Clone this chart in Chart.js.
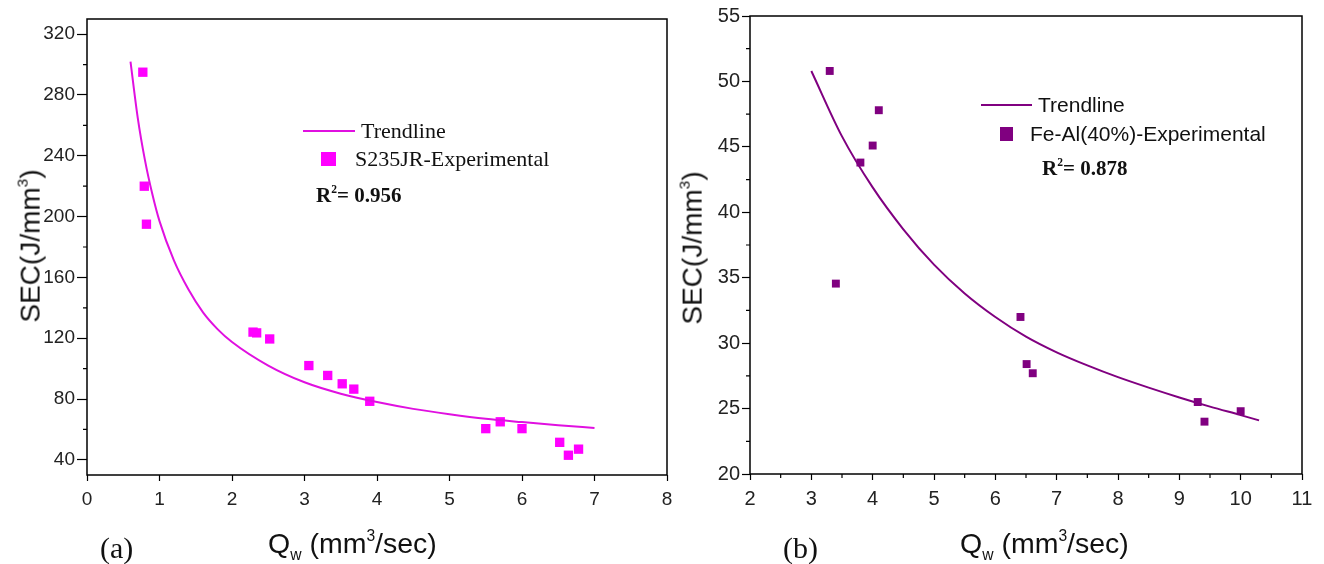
<!DOCTYPE html>
<html>
<head>
<meta charset="utf-8">
<script src="https://cdn.jsdelivr.net/npm/chart.js@4.4.1/dist/chart.umd.min.js"></script>
<style>
  body { margin: 0; background: #fff; }
  #wrap { position: relative; width: 1324px; height: 564px; overflow: hidden; }
  canvas { position: absolute; top: 0; }
  .t { position: absolute; white-space: nowrap; color: #111; }
  .sans { font-family: "Liberation Sans", Arial, sans-serif; }
  .serif { font-family: "Liberation Serif", "Times New Roman", serif; }
  sup { font-size: 0.55em; vertical-align: 0.75em; line-height: 0; }
  sub { font-size: 0.55em; vertical-align: -0.45em; line-height: 0; }
  .sw { position: absolute; }
</style>
</head>
<body>
<div id="wrap">
  <canvas id="chartA" width="690" height="564" style="left:0"></canvas>
  <canvas id="chartB" width="634" height="564" style="left:690px"></canvas>

  <!-- left legend -->
  <div class="sw" style="left:303px;top:130px;width:52px;height:2px;background:#e010e0"></div>
  <div class="t serif" style="left:361px;top:118px;font-size:22px;line-height:26px">Trendline</div>
  <div class="sw" style="left:321px;top:152px;width:15px;height:14px;background:#ff00ff"></div>
  <div class="t serif" style="left:355px;top:146px;font-size:22px;line-height:26px">S235JR-Experimental</div>
  <div class="t serif" style="left:316px;top:182px;font-size:21px;line-height:26px;font-weight:bold">R<sup>2</sup>= 0.956</div>

  <!-- right legend -->
  <div class="sw" style="left:981px;top:104px;width:51px;height:2px;background:#800080"></div>
  <div class="t sans" style="left:1038px;top:92px;font-size:21px;line-height:26px">Trendline</div>
  <div class="sw" style="left:1000px;top:127px;width:13px;height:14px;background:#800080"></div>
  <div class="t sans" style="left:1030px;top:121px;font-size:21px;line-height:26px">Fe-Al(40%)-Experimental</div>
  <div class="t serif" style="left:1042px;top:155px;font-size:21px;line-height:26px;font-weight:bold">R<sup>2</sup>= 0.878</div>

  <!-- axis titles -->
  <div class="t sans" id="ytA" style="font-size:28px;line-height:32px">SEC(J/mm<sup>3</sup>)</div>
  <div class="t sans" id="ytB" style="font-size:28px;line-height:32px">SEC(J/mm<sup>3</sup>)</div>
  <div class="t sans" style="left:268px;top:526px;font-size:28.5px;line-height:34px">Q<sub>w</sub> (mm<sup>3</sup>/sec)</div>
  <div class="t sans" style="left:960px;top:526px;font-size:28.5px;line-height:34px">Q<sub>w</sub> (mm<sup>3</sup>/sec)</div>
  <div class="t serif" style="left:100px;top:531px;font-size:30px;line-height:34px">(a)</div>
  <div class="t serif" style="left:783px;top:531px;font-size:30px;line-height:34px">(b)</div>
</div>

<script>
// (a) S235JR
const leftExpQ   = [0.77, 0.79, 0.82, 2.29, 2.34, 2.52, 3.06, 3.32, 3.52, 3.68, 3.90, 5.50, 5.70, 6.00, 6.52, 6.64, 6.78];
const leftExpSEC = [295, 220, 195, 124, 123.5, 119.5, 102, 95.5, 90, 86.5, 78.5, 60.5, 65, 60.5, 51.5, 43, 47];
const leftTrendQ   = [0.6, 0.7, 0.8, 0.9, 1.0, 1.2, 1.4, 1.6, 1.8, 2.0, 2.5, 3.0, 3.5, 4.0, 4.5, 5.0, 5.5, 6.0, 6.5, 7.0];
const leftTrendSEC = [302, 265, 237, 215, 197, 171, 152, 137, 126, 117.5, 102, 91, 83.5, 78, 73.5, 70, 67, 64.8, 62.8, 61];
const leftXTicks = [0, 1, 2, 3, 4, 5, 6, 7, 8];
const leftYTicks = [40, 80, 120, 160, 200, 240, 280, 320];
const leftYMinor = [60, 100, 140, 180, 220, 260, 300];

// (b) Fe-Al(40%)
const rightExpQ   = [3.30, 3.40, 3.80, 4.00, 4.10, 6.41, 6.51, 6.61, 9.30, 9.41, 10.0];
const rightExpSEC = [50.8, 34.55, 43.8, 45.1, 47.8, 32.0, 28.4, 27.7, 25.5, 24.0, 24.8];
const rightTrendQ   = [3.0, 3.5, 4.0, 4.5, 5.0, 5.5, 6.0, 6.5, 7.0, 7.5, 8.0, 8.5, 9.0, 9.5, 10.0, 10.3];
const rightTrendSEC = [50.8, 45.8, 41.9, 38.7, 36.0, 33.8, 32.0, 30.5, 29.3, 28.3, 27.4, 26.6, 25.85, 25.15, 24.5, 24.1];
const rightXTicks = [2, 3, 4, 5, 6, 7, 8, 9, 10, 11];
const rightXMinor = [2.5, 3.5, 4.5, 5.5, 6.5, 7.5, 8.5, 9.5, 10.5];
const rightYTicks = [20, 25, 30, 35, 40, 45, 50, 55];
const rightYMinor = [22.5, 27.5, 32.5, 37.5, 42.5, 47.5, 52.5];

function pts(xs, ys) {
  return xs.map((x, i) => ({x: x, y: ys[i]}));
}

// box around the plot + short minor ticks
const frame = {
  id: 'frame',
  afterDraw(chart, args, opts) {
    const a = chart.chartArea, c = chart.ctx;
    c.save();
    c.strokeStyle = '#000';
    c.lineWidth = 1.5;
    c.strokeRect(a.left, a.top, a.right - a.left, a.bottom - a.top);
    c.lineWidth = 1.2;
    c.beginPath();
    (opts.minorX || []).forEach(v => {
      const px = chart.scales.x.getPixelForValue(v);
      c.moveTo(px, a.bottom); c.lineTo(px, a.bottom + opts.len);
    });
    (opts.minorY || []).forEach(v => {
      const py = chart.scales.y.getPixelForValue(v);
      c.moveTo(a.left, py); c.lineTo(a.left - opts.len, py);
    });
    c.stroke();
    c.restore();
  }
};

function makeChart(id, cfg) {
  const tickFont = {family: '"Liberation Sans", Arial, sans-serif', size: cfg.fontSize};
  return new Chart(document.getElementById(id), {
    type: 'scatter',
    data: {
      datasets: [
        {
          data: pts(cfg.trendQ, cfg.trendSEC),
          showLine: true,
          borderColor: cfg.lineColor,
          borderWidth: 2,
          pointRadius: 0,
          cubicInterpolationMode: 'monotone'
        },
        {
          data: pts(cfg.expQ, cfg.expSEC),
          pointStyle: 'rect',
          pointRadius: cfg.markerR,
          pointHoverRadius: cfg.markerR,
          backgroundColor: cfg.markColor,
          borderColor: cfg.markColor,
          borderWidth: 0
        }
      ]
    },
    options: {
      responsive: false,
      animation: false,
      devicePixelRatio: 1,
      layout: {padding: {top: cfg.top, right: cfg.padRight, left: 0, bottom: 0}},
      plugins: {
        legend: {display: false},
        tooltip: {enabled: false},
        frame: {minorX: cfg.minorX, minorY: cfg.minorY, len: 4}
      },
      scales: {
        x: {
          type: 'linear',
          min: cfg.xTicks[0],
          max: cfg.xTicks[cfg.xTicks.length - 1],
          afterBuildTicks: s => { s.ticks = cfg.xTicks.map(v => ({value: v})); },
          afterFit: s => { s.height = cfg.xH; },
          border: {display: false},
          grid: {drawOnChartArea: false, color: '#000', tickLength: 6, tickWidth: 1.2},
          ticks: {color: '#222', font: tickFont, padding: 7, maxRotation: 0}
        },
        y: {
          type: 'linear',
          min: cfg.yMin,
          max: cfg.yMax,
          afterBuildTicks: s => { s.ticks = cfg.yTicks.map(v => ({value: v})); },
          afterFit: s => { s.width = cfg.yW; },
          border: {display: false},
          grid: {drawOnChartArea: false, color: '#000', tickLength: cfg.yTickLen, tickWidth: 1.2},
          ticks: {color: '#222', font: tickFont, padding: 2}
        }
      }
    },
    plugins: [frame]
  });
}

makeChart('chartA', {
  expQ: leftExpQ, expSEC: leftExpSEC, trendQ: leftTrendQ, trendSEC: leftTrendSEC,
  xTicks: leftXTicks, yTicks: leftYTicks, minorX: [], minorY: leftYMinor,
  yMin: 30, yMax: 330, lineColor: '#e010e0', markColor: '#ff00ff', markerR: 6.6,
  top: 19, padRight: 23, xH: 89, yW: 87, yTickLen: 10, fontSize: 19
});

makeChart('chartB', {
  expQ: rightExpQ, expSEC: rightExpSEC, trendQ: rightTrendQ, trendSEC: rightTrendSEC,
  xTicks: rightXTicks, yTicks: rightYTicks, minorX: rightXMinor, minorY: rightYMinor,
  yMin: 20, yMax: 55, lineColor: '#800080', markColor: '#800080', markerR: 5.6,
  top: 16, padRight: 22, xH: 90, yW: 60, yTickLen: 8, fontSize: 20
});

// rotated y-axis titles, centred beside each plot
function placeY(id, cx, cy) {
  const el = document.getElementById(id);
  el.style.left = (cx - el.offsetWidth / 2) + 'px';
  el.style.top = (cy - el.offsetHeight / 2) + 'px';
  el.style.transform = 'rotate(-90deg)';
}
placeY('ytA', 30, 246);
placeY('ytB', 692, 248);
</script>
</body>
</html>
